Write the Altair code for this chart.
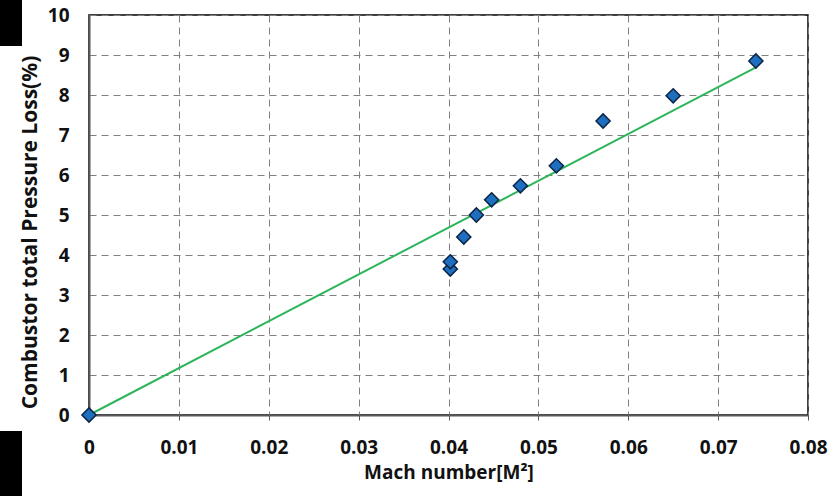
import altair as alt
import pandas as pd

mach = [0.0, 0.0402, 0.0402, 0.0417, 0.0431, 0.0448, 0.0480, 0.0520, 0.0572, 0.0650, 0.0742]
loss = [0.0, 3.65, 3.83, 4.45, 5.00, 5.38, 5.73, 6.23, 7.35, 7.98, 8.85]
fit_x = [0.0, 0.0741]
fit_y = [0.0, 8.68]
x_ticks = [0, 0.01, 0.02, 0.03, 0.04, 0.05, 0.06, 0.07, 0.08]
y_ticks = [0, 1, 2, 3, 4, 5, 6, 7, 8, 9, 10]

pts = pd.DataFrame({"x": mach, "y": loss})
fit = pd.DataFrame({"x": fit_x, "y": fit_y})

FONT = "Open Sans"

xs = alt.Scale(domain=[0, 0.08], nice=False, zero=False)
ys = alt.Scale(domain=[0, 10], nice=False)

xaxis = alt.Axis(
    title="Mach number[M²]", values=x_ticks,
    labelExpr="datum.value == 0 ? '0' : format(datum.value, '.2f')",
    labelOverlap=False, labelFlush=False,
    grid=True, gridDash=[7, 5], gridColor="#808080", gridWidth=1,
    domainColor="#595959", domainWidth=2, ticks=True, tickColor="#595959", tickSize=5,
    labelFont=FONT, labelFontSize=19, labelFontWeight="bold", labelColor="#111111",
    labelPadding=18, titleFont=FONT, titleFontSize=19, titleFontWeight="bold",
    titleColor="#111111", titlePadding=6,
)
yaxis = alt.Axis(
    title="Combustor total Pressure Loss(%)", values=y_ticks, tickCount=11,
    labelOverlap=False, labelFlush=False,
    grid=True, gridDash=[7, 5], gridColor="#808080", gridWidth=1,
    domainColor="#595959", domainWidth=2, ticks=False,
    labelFont=FONT, labelFontSize=19, labelFontWeight="bold", labelColor="#111111",
    labelPadding=20, titleFont=FONT, titleFontSize=21, titleFontWeight="bold",
    titleColor="#111111", titleX=-59, titleY=217, titleAngle=-90, titleBaseline="middle",
    titleAlign="center",
)

X = alt.X("x:Q", scale=xs, axis=xaxis)
Y = alt.Y("y:Q", scale=ys, axis=yaxis)

line = alt.Chart(fit).mark_line(color="#2cb55a", strokeWidth=2).encode(x=X, y=Y)
points = alt.Chart(pts).mark_point(
    shape="diamond", filled=True, size=200, fill="#1f6fc0", stroke="#0b2545", strokeWidth=1.5, opacity=1
).encode(x=X, y=Y)

blk = pd.DataFrame({"a": [0]})
box1 = alt.Chart(blk).mark_rect(color="black").encode(
    x=alt.value(-89), x2=alt.value(-67), y=alt.value(-15), y2=alt.value(31))
box2 = alt.Chart(blk).mark_rect(color="black").encode(
    x=alt.value(-89), x2=alt.value(-67), y=alt.value(416), y2=alt.value(481))

chart = alt.layer(line, points, box1, box2).properties(
    width=719, height=400,
    padding={"left": 89, "top": 15, "right": 32, "bottom": 81},
    autosize=alt.AutoSizeParams(type="none"),
    background="white",
).configure_view(stroke="black", strokeWidth=1.5)

chart.save("out.html", embed_options={"renderer": "svg", "actions": False})
